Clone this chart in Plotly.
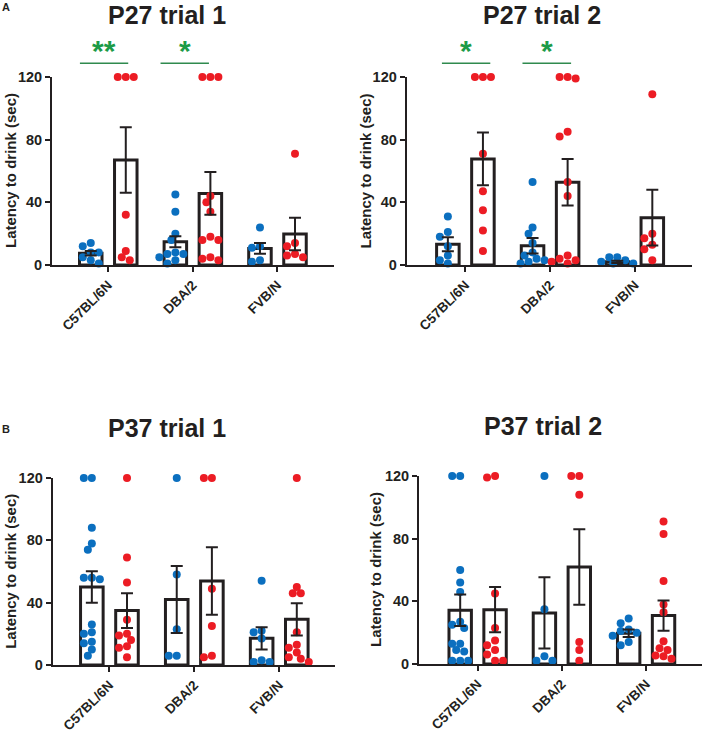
import plotly.graph_objects as go

# ---------------- data ----------------
categories = ["C57BL/6N", "DBA/2", "FVB/N"]
titles = ["P27 trial 1", "P27 trial 2", "P37 trial 1", "P37 trial 2"]
y_ticks = [0, 40, 80, 120]
y_title = "Latency to drink (sec)"

# P27 trial 1
p27t1_blue_mean = [7.5, 14.9, 10.6]
p27t1_blue_sem = [1.5, 3.5, 3.4]
p27t1_red_mean = [67.0, 45.7, 19.8]
p27t1_red_sem = [20.9, 13.7, 10.4]
p27t1_blue_pts = [[14, 12, 8, 8, 5, 3, 1],
                  [45, 34, 20, 16, 8, 7, 7, 5, 3, 1],
                  [24, 12, 11, 3, 2]]
p27t1_red_pts = [[120, 120, 120, 32, 9, 5, 3],
                 [120, 120, 120, 44, 40, 34, 18, 16, 16, 5, 4, 3],
                 [71, 14, 12, 7, 6, 5]]
p27t1_sig = ["**", "*", ""]

# P27 trial 2
p27t2_blue_mean = [13.2, 12.3, 2.0]
p27t2_blue_sem = [4.5, 4.9, 0.7]
p27t2_red_mean = [67.7, 52.8, 30.2]
p27t2_red_sem = [16.8, 14.9, 17.8]
p27t2_blue_pts = [[31, 21, 18, 12, 6, 3, 1],
                  [53, 24, 20, 14, 8, 6, 4, 3, 2, 1],
                  [5, 5, 3, 2, 1, 1]]
p27t2_red_pts = [[120, 120, 120, 71, 47, 35, 22, 9],
                 [120, 119, 120, 85, 82, 53, 44, 6, 4, 3, 2, 1],
                 [109, 20, 17, 13, 10, 3]]
p27t2_sig = ["*", "*", ""]

# P37 trial 1
p37t1_blue_mean = [50.0, 42.1, 17.1]
p37t1_blue_sem = [10.1, 21.5, 7.2]
p37t1_red_mean = [34.9, 53.9, 29.3]
p37t1_red_sem = [11.2, 21.7, 10.4]
p37t1_blue_pts = [[120, 120, 88, 78, 74, 56, 56, 55, 26, 21, 20, 15, 14, 10, 6],
                  [120, 58, 23, 6, 6],
                  [54, 22, 21, 17, 3, 2, 2]]
p37t1_red_pts = [[120, 69, 53, 29, 20, 19, 16, 12, 11, 5],
                 [120, 120, 49, 25, 6, 5],
                 [120, 50, 46, 46, 21, 13, 11, 8, 5, 4, 2]]
p37t1_sig = ["", "", ""]

# P37 trial 2
p37t2_blue_mean = [34.3, 32.6, 19.6]
p37t2_blue_sem = [10.1, 22.7, 2.4]
p37t2_red_mean = [34.7, 61.9, 30.9]
p37t2_red_sem = [14.5, 24.1, 9.7]
p37t2_blue_pts = [[120, 120, 60, 52, 46, 27, 25, 23, 13, 13, 9, 8, 2, 2, 2],
                  [120, 35, 5, 2, 2],
                  [29, 26, 22, 21, 20, 18, 14, 12]]
p37t2_red_pts = [[120, 119, 45, 23, 15, 12, 9, 6, 2, 2],
                 [120, 120, 108, 14, 9, 2],
                 [91, 83, 53, 38, 33, 14.5, 10, 9, 5.5, 5, 3.4]]
p37t2_sig = ["", "", ""]

# ---------------- styling / layout ----------------
W, H = 705, 730
BLUE = "#0b6fbf"
RED = "#ec1c24"
INK = "#231f20"
GREEN_TXT = "#1d9b47"
GREEN_LN = "#2f8a4e"
FONT = "Liberation Sans, Arial, sans-serif"

# pixel geometry of each panel: (x0, x1), (ytop(120), ybottom(0)), x range
panels = [
    dict(px=(52, 334), py=(77, 265), xr=(-0.665, 2.668), ytitle_x=10, title_xy=(167, 15),
         sig_line=[(-0.335, 0.236), (-0.382, 0.19), None], sig_y=63.3, star_y=51),
    dict(px=(406.7, 691.7), py=(77, 265), xr=(-0.693, 2.672), ytitle_x=364.5, title_xy=(542, 15),
         sig_line=[(-0.277, 0.294), (-0.326, 0.248), None], sig_y=63.3, star_y=51),
    dict(px=(52.7, 335), py=(478, 665), xr=(-0.668, 2.657), ytitle_x=10.3, title_xy=(167, 428),
         sig_line=[None, None, None], sig_y=None, star_y=None),
    dict(px=(419, 701.7), py=(476, 664), xr=(-0.696, 2.66), ytitle_x=375, title_xy=(543, 426),
         sig_line=[None, None, None], sig_y=None, star_y=None),
]
datasets = [
    (p27t1_blue_mean, p27t1_blue_sem, p27t1_red_mean, p27t1_red_sem, p27t1_blue_pts, p27t1_red_pts, p27t1_sig),
    (p27t2_blue_mean, p27t2_blue_sem, p27t2_red_mean, p27t2_red_sem, p27t2_blue_pts, p27t2_red_pts, p27t2_sig),
    (p37t1_blue_mean, p37t1_blue_sem, p37t1_red_mean, p37t1_red_sem, p37t1_blue_pts, p37t1_red_pts, p37t1_sig),
    (p37t2_blue_mean, p37t2_blue_sem, p37t2_red_mean, p37t2_red_sem, p37t2_blue_pts, p37t2_red_pts, p37t2_sig),
]

OFF = 0.207   # bar offset from category centre
BW = 0.266    # bar width
DOT = 8


def swarm(vals, ppu_x, ppu_y, diam=DOT):
    """Beeswarm-style x offsets (in data units) so dots don't overlap."""
    placed = []
    offs = [0.0] * len(vals)
    order = sorted(range(len(vals)), key=lambda i: -vals[i])
    step = diam / 2.0
    cands = [0.0]
    for k in range(1, 12):
        cands += [-k * step, k * step]
    for i in order:
        py = vals[i] * ppu_y
        for c in cands:
            if all((c - qx) ** 2 + (py - qy) ** 2 >= (diam * 0.92) ** 2 for qx, qy in placed):
                placed.append((c, py))
                offs[i] = c / ppu_x
                break
    return offs


fig = go.Figure()
annotations = []
shapes = []

for p_i, (pan, ds) in enumerate(zip(panels, datasets)):
    bm, bs, rm, rs, bpts, rpts, sig = ds
    sfx = "" if p_i == 0 else str(p_i + 1)
    xa, ya = "x" + sfx, "y" + sfx
    x0, x1 = pan["px"]
    yt, yb = pan["py"]
    ppu_x = (x1 - x0) / (pan["xr"][1] - pan["xr"][0])
    ppu_y = (yb - yt) / 120.0

    for means, sems, pts, sgn, col in [(bm, bs, bpts, -1, BLUE), (rm, rs, rpts, 1, RED)]:
        xc = [i + sgn * OFF for i in range(3)]
        fig.add_trace(go.Bar(x=xc, y=means, width=BW, xaxis=xa, yaxis=ya,
                             marker=dict(color="white", line=dict(color=INK, width=3)),
                             showlegend=False, hoverinfo="skip"))
        xs, ys = [], []
        for i, vals in enumerate(pts):
            offs = swarm(vals, ppu_x, ppu_y)
            xs += [xc[i] + o for o in offs]
            ys += list(vals)
        fig.add_trace(go.Scatter(x=xs, y=ys, mode="markers", xaxis=xa, yaxis=ya,
                                 marker=dict(color=col, size=DOT, line=dict(width=0)),
                                 cliponaxis=False, showlegend=False, hoverinfo="skip"))
        fig.add_trace(go.Scatter(x=xc, y=means, mode="markers", xaxis=xa, yaxis=ya,
                                 marker=dict(size=2, opacity=0),
                                 error_y=dict(type="data", array=sems, visible=True,
                                              color=INK, thickness=2, width=6),
                                 cliponaxis=False, showlegend=False, hoverinfo="skip"))

    dom_x = [x0 / W, x1 / W]
    dom_y = [1 - yb / H, 1 - yt / H]
    fig.layout["xaxis" + sfx] = dict(
        domain=dom_x, anchor=ya, range=list(pan["xr"]), tickvals=[0, 1, 2], ticktext=categories,
        tickangle=-45, showline=True, linecolor=INK, linewidth=2, ticks="outside", ticklen=5,
        tickwidth=2, tickcolor=INK, showgrid=False, zeroline=False, fixedrange=True,
        automargin=False,
        tickfont=dict(family=FONT, size=13.5, color=INK, weight="bold"))
    fig.layout["yaxis" + sfx] = dict(
        domain=dom_y, anchor=xa, range=[0, 120], tickvals=y_ticks, showline=True, linecolor=INK,
        linewidth=2, ticks="outside", ticklen=5, tickwidth=2, tickcolor=INK, showgrid=False,
        zeroline=False, fixedrange=True, automargin=False,
        tickfont=dict(family=FONT, size=14.5, color=INK, weight="bold"))

    # y-axis title
    annotations.append(dict(text=y_title, xref="paper", yref="paper", x=pan["ytitle_x"] / W,
                            y=1 - (yt + yb) / 2 / H, textangle=-90, showarrow=False,
                            xanchor="center", yanchor="middle",
                            font=dict(family=FONT, size=15, color=INK, weight="bold")))
    # panel title
    tx, ty = pan["title_xy"]
    annotations.append(dict(text=titles[p_i], xref="paper", yref="paper", x=tx / W, y=1 - ty / H,
                            showarrow=False, xanchor="center", yanchor="middle",
                            font=dict(family=FONT, size=25, color=INK, weight="bold")))
    # significance
    for i, s in enumerate(sig):
        seg = pan["sig_line"][i]
        if not s or seg is None:
            continue
        shapes.append(dict(type="line", xref=xa, yref="paper", x0=i + seg[0], x1=i + seg[1],
                           y0=1 - pan["sig_y"] / H, y1=1 - pan["sig_y"] / H,
                           line=dict(color=GREEN_LN, width=1.5)))
        annotations.append(dict(text=s, xref=xa, yref="paper", x=i + (seg[0] + seg[1]) / 2,
                                y=1 - pan["star_y"] / H, showarrow=False, xanchor="center",
                                yanchor="middle",
                                font=dict(family=FONT, size=30, color=GREEN_TXT, weight="bold")))

# panel letters
for letter, yy in [("A", 7), ("B", 429)]:
    annotations.append(dict(text=letter, xref="paper", yref="paper", x=6.3 / W, y=1 - yy / H,
                            showarrow=False, xanchor="center", yanchor="middle",
                            font=dict(family=FONT, size=11, color=INK, weight="bold")))

fig.update_layout(template="none", width=W, height=H,
                  margin=dict(l=0, r=0, t=0, b=0, pad=0, autoexpand=False),
                  paper_bgcolor="white", plot_bgcolor="white", barmode="overlay",
                  annotations=annotations, shapes=shapes, showlegend=False)

fig.write_html("out.html", config={"displayModeBar": False},
               post_script="document.body.style.margin='0px';"
                           "document.body.style.overflow='hidden';")
